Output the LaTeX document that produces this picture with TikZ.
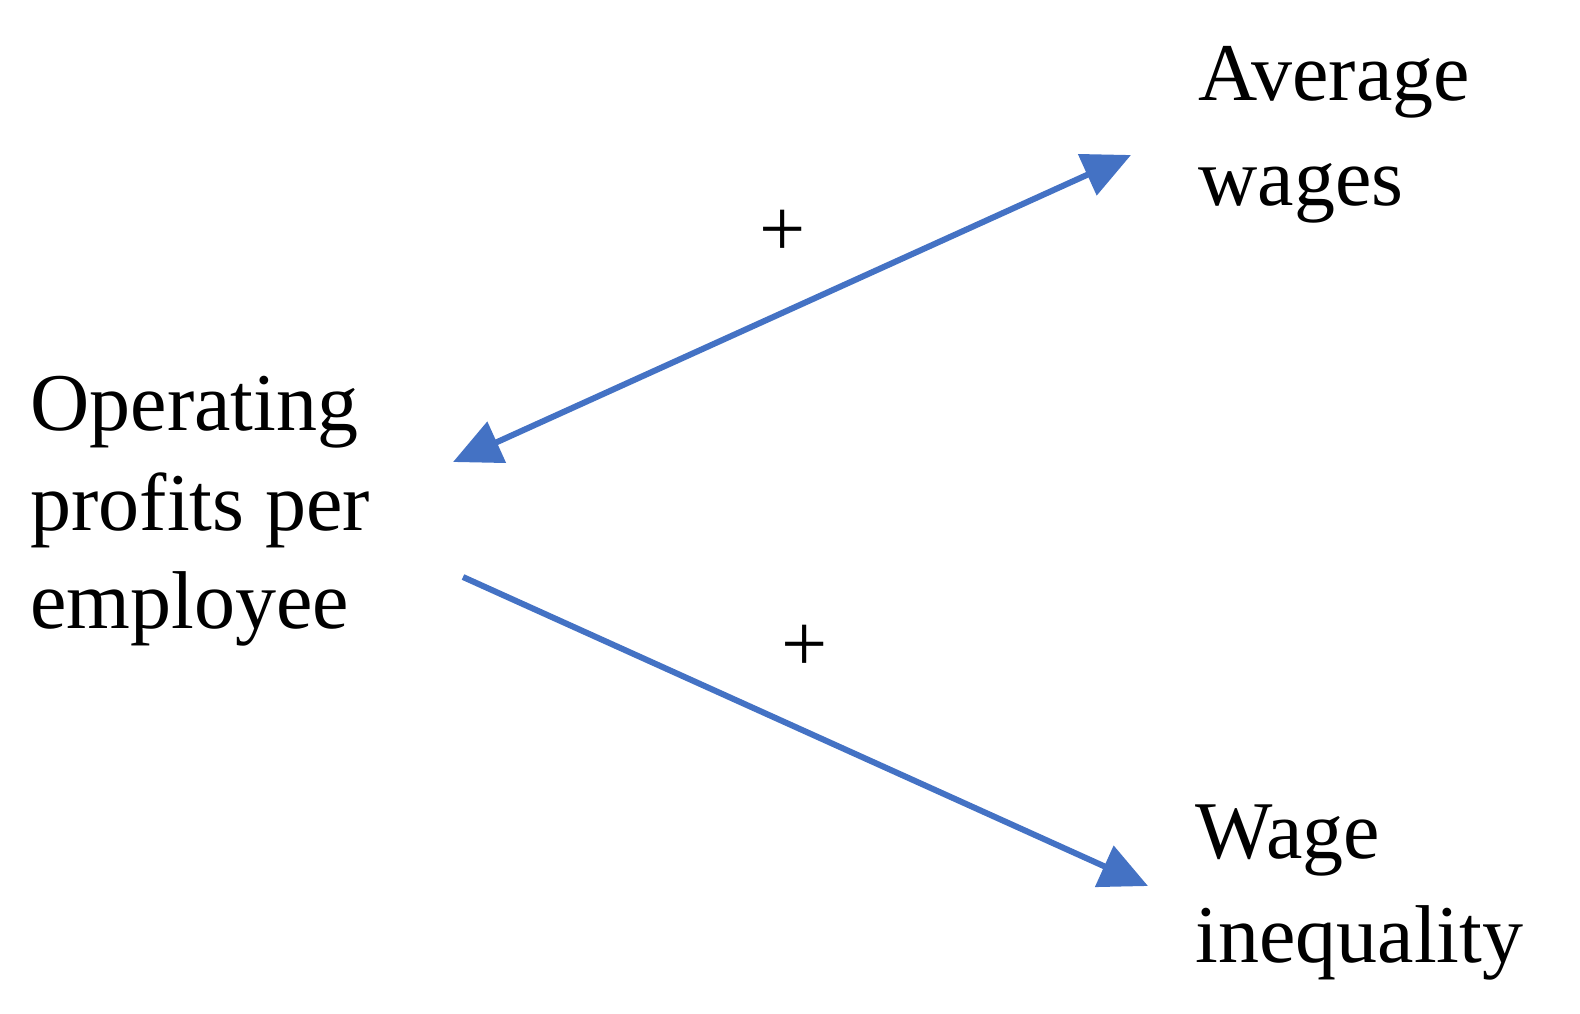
\documentclass[tikz,border=0pt]{standalone}
\usepackage{fontspec}
\setmainfont{Liberation Serif}
\usetikzlibrary{arrows.meta}
\definecolor{arr}{HTML}{4472C4}
\begin{document}
\begin{tikzpicture}[x=0.5pt,y=-0.5pt,
  lbl/.style={anchor=base west,inner sep=0pt,align=left,font=\fontsize{41}{52.5}\selectfont},
  pl/.style={anchor=center,inner sep=0pt,font=\fontsize{41}{41}\selectfont},
  con/.style={arr,line width=3pt,-{Triangle[length=24pt,width=22pt]}}]
\useasboundingbox (0,0) rectangle (1580,1013);
\node[lbl] (opl1) at (30,430) {Operating};
\node[lbl] (opl2) at (30,530) {profits per};
\node[lbl] (opl3) at (30,628) {employee};
\node[lbl] (av1) at (1198,100) {Average};
\node[lbl] (av2) at (1198,205) {wages};
\node[lbl] (wi1) at (1195,858) {Wage};
\node[lbl] (wi2) at (1195,962) {inequality};
\coordinate (a1) at (453,462);
\coordinate (a2) at (1131,155);
\coordinate (b1) at (463,577);
\coordinate (b2) at (1148,886);
\draw[con,{Triangle[length=24pt,width=22pt]}-{Triangle[length=24pt,width=22pt]}] (a1) -- (a2);
\draw[con] (b1) -- (b2);
\node[pl] (p1) at (783,233) {+};
\node[pl] (p2) at (805,648) {+};
\end{tikzpicture}
\end{document}
